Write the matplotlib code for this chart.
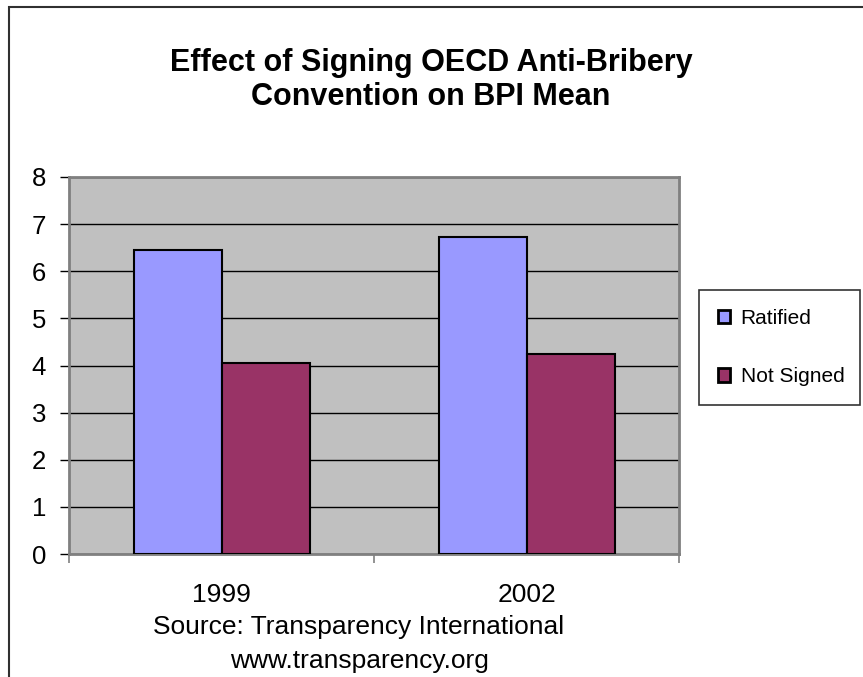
import matplotlib
matplotlib.use("Agg")
import matplotlib.pyplot as plt
from matplotlib.patches import Rectangle
import numpy as np

plt.rcParams['font.family'] = ['Liberation Sans', 'DejaVu Sans']

categories = ["1999", "2002"]
series_names = ["Ratified", "Not Signed"]
ratified = [6.45, 6.72]
not_signed = [4.06, 4.25]
yticks = [0, 1, 2, 3, 4, 5, 6, 7, 8]
title = "Effect of Signing OECD Anti-Bribery\nConvention on BPI Mean"
source_lines = ["Source: Transparency International", "www.transparency.org"]

W, H = 863, 677
fig = plt.figure(figsize=(W / 100, H / 100), dpi=100)
fig.patch.set_facecolor('white')

# figure border (chart area)
fig.patches.append(Rectangle((9 / W, -0.05), 1.2, 1 - 7 / H + 0.05, transform=fig.transFigure,
                             fill=False, edgecolor='#303030', linewidth=1.5, zorder=0))

ax = fig.add_axes([69 / W, 1 - 554 / H, (679 - 69) / W, (554 - 177) / H])
ax.set_facecolor('#C0C0C0')
for s in ax.spines.values():
    s.set_color('#808080')
    s.set_linewidth(2)

x = np.arange(len(categories))
bw = 88 / 305
b1 = ax.bar(x - bw / 2, ratified, bw, color='#9999FF', edgecolor='black', linewidth=1.5, zorder=3,
            label=series_names[0])
b2 = ax.bar(x + bw / 2, not_signed, bw, color='#993366', edgecolor='black', linewidth=1.5, zorder=3,
            label=series_names[1])

ax.set_xlim(-0.5, len(categories) - 0.5)
ax.set_ylim(0, 8)
ax.set_yticks(yticks)
ax.set_yticklabels([str(v) for v in yticks], fontsize=18.5)
ax.yaxis.grid(True, color='black', linewidth=1)
ax.set_axisbelow(True)
ax.tick_params(axis='y', direction='out', length=6.5, width=1, color='black', pad=10)

ax.set_xticks(x)
ax.set_xticklabels(categories, fontsize=19)
ax.set_xticks(np.arange(-0.5, len(categories)), minor=True)
ax.tick_params(axis='x', which='major', length=0, pad=21)
ax.tick_params(axis='x', which='minor', direction='out', length=6.5, width=1.2, color='#808080')

fig.text(431 / W, 1 - 80 / H, title, ha='center', va='center', fontsize=22, fontweight='bold',
         linespacing=1.2)
fig.text(359 / W, 1 - 627 / H, source_lines[0], ha='center', va='center', fontsize=19)
fig.text(359 / W, 1 - 661 / H, source_lines[1], ha='center', va='center', fontsize=19)

leg = fig.legend(handles=[b1, b2], labels=series_names,
                 bbox_to_anchor=(699 / W, 1 - 408 / H, (860 - 699) / W, (408 - 287) / H),
                 loc='center', mode='expand', fontsize=15, frameon=True, fancybox=False,
                 edgecolor='black', handlelength=0.6, handleheight=0.6, handletextpad=0.5,
                 labelspacing=1.9, borderpad=0.9, borderaxespad=0)
leg.get_frame().set_linewidth(1.2)
for h in leg.legend_handles:
    h.set_linewidth(2)

fig.savefig('out.png', dpi=100)
